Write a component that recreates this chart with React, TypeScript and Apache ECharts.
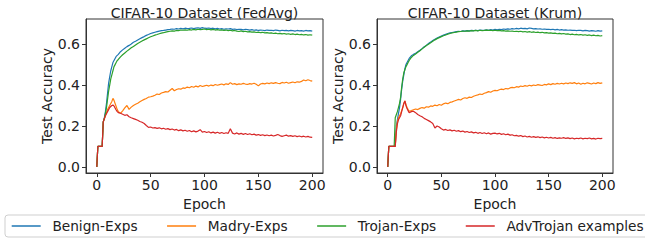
import React, { useEffect, useRef } from "react";
import * as echarts from "echarts";

const epochs = [0,1,2,3,4,5,6,7,8,9,10,11,12,13,14,15,16,17,18,19,20,
22,24,26,28,30,32,34,36,38,40,
42,44,46,48,50,52,54,56,58,60,
62,64,66,68,70,72,74,76,78,80,
82,84,86,88,90,92,94,96,98,100,
102,104,106,108,110,112,114,116,118,120,
122,124,126,128,130,132,134,136,138,140,
142,144,146,148,150,152,154,156,158,160,
162,164,166,168,170,172,174,176,178,180,
182,184,186,188,190,192,194,196,198,200];

const seriesNames = ["Benign-Exps", "Madry-Exps", "Trojan-Exps", "AdvTrojan examples"];
const seriesColors = ["#1f77b4", "#ff7f0e", "#2ca02c", "#d62728"];
const chartTitles = ["CIFAR-10 Dataset (FedAvg)", "CIFAR-10 Dataset (Krum)"];
const xTicks = [0, 50, 100, 150, 200];
const yTicks = [0, 0.2, 0.4, 0.6];

const fedAvgBenign = [0,0.1,0.1,0.1,0.1,0.1,0.22,0.24,0.27,0.31,0.36,0.41,0.44,0.47,0.49,0.51,0.52,0.53,0.54,0.545,0.55,
0.563,0.572,0.58,0.588,0.594,0.601,0.609,0.614,0.62,0.626,
0.632,0.637,0.643,0.647,0.652,0.655,0.658,0.661,0.664,0.666,
0.667,0.669,0.671,0.672,0.674,0.673,0.676,0.674,0.677,0.675,
0.678,0.676,0.677,0.679,0.676,0.678,0.68,0.677,0.681,0.678,
0.677,0.679,0.676,0.678,0.675,0.677,0.674,0.676,0.673,0.675,
0.674,0.676,0.672,0.674,0.671,0.673,0.672,0.67,0.673,0.671,
0.669,0.671,0.668,0.67,0.667,0.669,0.668,0.666,0.669,0.667,
0.668,0.666,0.669,0.667,0.665,0.668,0.666,0.667,0.665,0.667,
0.666,0.664,0.667,0.665,0.666,0.664,0.667,0.665,0.666,0.664];

const fedAvgTrojan = [0,0.1,0.1,0.1,0.1,0.1,0.22,0.235,0.26,0.29,0.33,0.37,0.4,0.43,0.45,0.47,0.49,0.5,0.51,0.52,0.525,
0.538,0.548,0.557,0.566,0.574,0.582,0.589,0.596,0.603,0.609,
0.615,0.621,0.626,0.631,0.636,0.64,0.644,0.647,0.651,0.654,
0.656,0.659,0.661,0.663,0.665,0.664,0.667,0.666,0.669,0.668,
0.67,0.668,0.671,0.669,0.672,0.67,0.673,0.671,0.672,0.674,
0.671,0.673,0.67,0.672,0.669,0.671,0.668,0.67,0.667,0.669,
0.666,0.668,0.665,0.667,0.664,0.662,0.665,0.661,0.663,0.66,
0.661,0.659,0.66,0.657,0.659,0.656,0.658,0.655,0.656,0.654,
0.655,0.652,0.654,0.651,0.653,0.65,0.652,0.649,0.651,0.648,
0.65,0.647,0.649,0.646,0.648,0.645,0.647,0.644,0.646,0.644];

const fedAvgMadry = [0,0.1,0.1,0.1,0.1,0.1,0.22,0.235,0.25,0.265,0.28,0.29,0.3,0.31,0.32,0.335,0.325,0.31,0.295,0.28,0.27,
0.262,0.274,0.288,0.3,0.281,0.292,0.3,0.306,0.311,0.318,
0.324,0.33,0.334,0.341,0.343,0.346,0.35,0.356,0.354,0.361,
0.364,0.368,0.366,0.375,0.383,0.372,0.378,0.382,0.38,0.386,
0.384,0.39,0.387,0.393,0.389,0.395,0.391,0.398,0.393,0.396,
0.399,0.395,0.4,0.397,0.403,0.399,0.402,0.405,0.401,0.406,
0.403,0.412,0.404,0.407,0.402,0.406,0.404,0.408,0.405,0.403,
0.407,0.405,0.409,0.404,0.396,0.405,0.408,0.406,0.41,0.407,
0.411,0.408,0.412,0.409,0.407,0.413,0.41,0.414,0.409,0.412,
0.415,0.411,0.416,0.414,0.418,0.425,0.421,0.426,0.422,0.419];

const fedAvgAdv = [0,0.1,0.1,0.1,0.1,0.1,0.22,0.235,0.25,0.26,0.27,0.28,0.29,0.295,0.3,0.302,0.298,0.288,0.278,0.27,0.265,
0.262,0.257,0.252,0.255,0.245,0.24,0.236,0.232,0.228,0.222,
0.218,0.212,0.202,0.193,0.195,0.19,0.192,0.188,0.191,0.186,
0.189,0.184,0.187,0.182,0.185,0.18,0.183,0.177,0.181,0.176,
0.179,0.174,0.178,0.172,0.176,0.171,0.175,0.182,0.17,0.173,
0.168,0.172,0.166,0.17,0.165,0.169,0.164,0.168,0.163,0.167,
0.164,0.186,0.165,0.161,0.166,0.16,0.164,0.159,0.163,0.158,
0.162,0.157,0.16,0.155,0.158,0.154,0.157,0.153,0.156,0.152,
0.155,0.151,0.154,0.158,0.153,0.149,0.152,0.155,0.15,0.153,
0.149,0.152,0.148,0.151,0.147,0.15,0.146,0.149,0.145,0.144];

const krumBenign = [0,0.1,0.1,0.1,0.1,0.1,0.1,0.1,0.2,0.23,0.26,0.29,0.33,0.38,0.42,0.45,0.48,0.5,0.51,0.52,0.53,
0.543,0.55,0.556,0.563,0.57,0.578,0.587,0.594,0.603,0.61,
0.618,0.624,0.63,0.635,0.64,0.644,0.648,0.652,0.655,0.657,
0.659,0.661,0.663,0.662,0.665,0.664,0.666,0.665,0.667,0.666,
0.668,0.666,0.669,0.667,0.668,0.67,0.668,0.671,0.669,0.672,
0.67,0.673,0.671,0.674,0.672,0.675,0.673,0.676,0.674,0.677,
0.675,0.678,0.676,0.677,0.675,0.679,0.677,0.675,0.676,0.674,
0.675,0.673,0.674,0.672,0.673,0.671,0.673,0.67,0.672,0.669,
0.671,0.669,0.67,0.668,0.669,0.667,0.668,0.666,0.668,0.667,
0.665,0.667,0.666,0.664,0.666,0.665,0.663,0.666,0.664,0.665];

const krumTrojan = [0,0.1,0.1,0.1,0.1,0.1,0.1,0.24,0.255,0.27,0.29,0.31,0.34,0.39,0.43,0.46,0.475,0.49,0.5,0.51,0.52,
0.535,0.545,0.552,0.56,0.568,0.577,0.585,0.593,0.6,0.607,
0.614,0.621,0.627,0.632,0.637,0.641,0.645,0.649,0.652,0.655,
0.657,0.659,0.661,0.662,0.664,0.663,0.665,0.664,0.666,0.665,
0.667,0.665,0.668,0.666,0.667,0.669,0.667,0.668,0.666,0.668,
0.666,0.667,0.665,0.666,0.664,0.665,0.663,0.664,0.662,0.663,
0.661,0.663,0.66,0.662,0.659,0.661,0.658,0.66,0.657,0.659,
0.656,0.658,0.655,0.656,0.654,0.655,0.653,0.654,0.651,0.653,
0.65,0.652,0.649,0.65,0.647,0.649,0.646,0.648,0.645,0.647,
0.644,0.646,0.643,0.645,0.642,0.644,0.641,0.643,0.64,0.642];

const krumMadry = [0,0.1,0.1,0.1,0.1,0.1,0.1,0.1,0.18,0.22,0.24,0.25,0.26,0.275,0.29,0.31,0.322,0.305,0.29,0.28,0.272,
0.275,0.279,0.283,0.28,0.286,0.29,0.287,0.294,0.292,0.298,
0.296,0.302,0.299,0.305,0.301,0.308,0.312,0.309,0.315,0.318,
0.322,0.326,0.33,0.327,0.334,0.338,0.335,0.341,0.339,0.345,
0.349,0.352,0.356,0.354,0.36,0.363,0.368,0.365,0.371,0.374,
0.372,0.377,0.38,0.378,0.383,0.381,0.386,0.389,0.387,0.392,
0.39,0.395,0.393,0.397,0.394,0.399,0.396,0.4,0.398,0.402,
0.4,0.398,0.403,0.401,0.406,0.402,0.407,0.404,0.408,0.405,
0.409,0.406,0.41,0.407,0.411,0.408,0.412,0.406,0.41,0.404,
0.409,0.406,0.411,0.408,0.405,0.41,0.407,0.412,0.408,0.411];

const krumAdv = [0,0.1,0.1,0.1,0.1,0.1,0.1,0.1,0.17,0.21,0.23,0.24,0.25,0.27,0.29,0.31,0.322,0.3,0.285,0.275,0.265,
0.27,0.272,0.265,0.256,0.25,0.245,0.237,0.232,0.226,0.22,
0.212,0.19,0.2,0.195,0.186,0.18,0.183,0.178,0.181,0.176,
0.179,0.174,0.177,0.172,0.175,0.17,0.173,0.168,0.171,0.166,
0.169,0.164,0.168,0.163,0.167,0.162,0.166,0.16,0.164,0.165,
0.161,0.164,0.159,0.162,0.157,0.16,0.155,0.157,0.152,0.154,
0.15,0.153,0.148,0.151,0.146,0.149,0.145,0.148,0.144,0.147,
0.143,0.146,0.142,0.145,0.141,0.144,0.14,0.143,0.139,0.142,
0.14,0.143,0.139,0.142,0.138,0.141,0.137,0.14,0.138,0.141,
0.137,0.14,0.138,0.141,0.137,0.139,0.136,0.14,0.138,0.139];

const panels = [
  [fedAvgBenign, fedAvgMadry, fedAvgTrojan, fedAvgAdv],
  [krumBenign, krumMadry, krumTrojan, krumAdv],
];

const FONT = "DejaVu Sans";
const TEXT = "#222";

export default function App() {
  const ref = useRef<HTMLDivElement>(null);
  useEffect(() => {
    if (!ref.current) return;
    const chart = echarts.init(ref.current, null, { renderer: "svg" });
    const grids = [
      { left: 86, top: 19, width: 237, height: 154 },
      { left: 377, top: 19, width: 236, height: 154 },
    ];
    const xAxes = grids.map((_, i) => ({
      type: "value",
      gridIndex: i,
      min: -10,
      max: 210,
      name: "Epoch",
      nameLocation: "middle",
      nameGap: 20,
      nameTextStyle: { fontSize: 14, fontFamily: FONT, color: TEXT },
      axisLine: { show: true, onZero: false, lineStyle: { color: "#333", width: 1 } },
      axisTick: { show: true, length: 4, customValues: xTicks, lineStyle: { color: "#333" } },
      axisLabel: { customValues: xTicks, fontSize: 14, fontFamily: FONT, color: TEXT, margin: 5 },
      splitLine: { show: false },
    }));
    const yAxes = grids.map((_, i) => ({
      type: "value",
      gridIndex: i,
      min: -0.03,
      max: 0.723,
      name: "Test Accuracy",
      nameLocation: "middle",
      nameGap: 29,
      nameTextStyle: { fontSize: 14, fontFamily: FONT, color: TEXT },
      axisLine: { show: true, onZero: false, lineStyle: { color: "#333", width: 1 } },
      axisTick: { show: true, length: 4, customValues: yTicks, lineStyle: { color: "#333" } },
      axisLabel: {
        customValues: yTicks,
        fontSize: 14,
        fontFamily: FONT,
        color: TEXT,
        margin: 6,
        formatter: (v: number) => v.toFixed(1),
      },
      splitLine: { show: false },
    }));
    const series: any[] = [];
    panels.forEach((panel, pi) => {
      panel.forEach((vals, si) => {
        series.push({
          type: "line",
          name: seriesNames[si],
          xAxisIndex: pi,
          yAxisIndex: pi,
          data: epochs.map((e, k) => [e, vals[k]]),
          symbol: "none",
          showSymbol: false,
          lineStyle: { color: seriesColors[si], width: 1.2 },
          itemStyle: { color: seriesColors[si] },
          z: 2 + si,
        });
      });
    });
    chart.setOption({
      animation: false,
      textStyle: { fontFamily: FONT },
      grid: grids.map((g) => ({ ...g, show: true, borderColor: "#333", borderWidth: 1, backgroundColor: "transparent" })),
      xAxis: xAxes,
      yAxis: yAxes,
      legend: {
        data: seriesNames.map((n, i) => ({ name: n, icon: "rect", itemStyle: { color: seriesColors[i] } })),
        left: 5,
        top: 215,
        width: 660,
        orient: "horizontal",
        padding: [4, 8, 4, 6.7],
        itemWidth: 29,
        itemHeight: 1.5,
        itemGap: 29.5,
        borderColor: "#cfcfcf",
        borderWidth: 1,
        borderRadius: 3,
        selectedMode: false,
        textStyle: { fontSize: 13.7, fontFamily: FONT, color: TEXT, padding: [0, 0, 0, 6.7] },
      },
      graphic: chartTitles.map((t, i) => ({
        type: "text",
        x: grids[i].left + grids[i].width / 2,
        y: 12.7,
        style: {
          text: t,
          fill: TEXT,
          font: `14px "${FONT}"`,
          textAlign: "center",
          textVerticalAlign: "middle",
        },
      })),
      series,
    });
    return () => chart.dispose();
  }, []);
  return (
    <div
      ref={ref}
      style={{ position: "absolute", left: 0, top: 0, width: 645, height: 241 }}
    />
  );
}
